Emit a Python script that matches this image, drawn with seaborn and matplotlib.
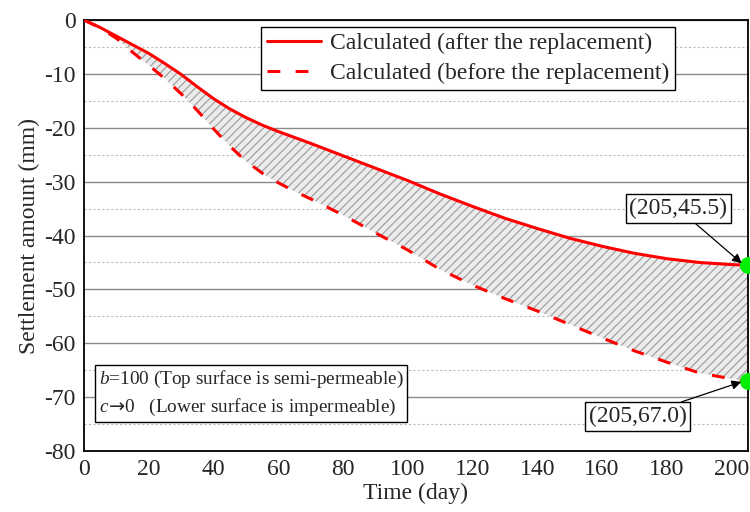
import numpy as np
import pandas as pd
import matplotlib
matplotlib.use("Agg")
import matplotlib.pyplot as plt
import seaborn as sns
from matplotlib.ticker import MultipleLocator

# ---- data ----
time_day = [0, 5, 10, 15, 20, 25, 30, 35, 40, 45, 50, 55, 60, 65, 70, 80, 90, 100,
            110, 120, 130, 140, 150, 160, 170, 180, 190, 200, 205]
after_repl = [0, -1.4, -3.0, -4.6, -6.2, -8.1, -10.1, -12.4, -14.6, -16.5, -18.1,
              -19.5, -20.7, -21.8, -22.9, -25.2, -27.5, -29.8, -32.3, -34.6, -36.8,
              -38.7, -40.5, -42.0, -43.3, -44.3, -45.0, -45.4, -45.5]
before_repl = [0, -1.5, -3.4, -6.0, -8.4, -10.9, -13.7, -16.8, -20.2, -23.4, -26.2,
               -28.4, -30.2, -31.8, -33.2, -36.2, -39.5, -42.7, -46.3, -49.2, -51.7,
               -54.0, -56.5, -59.0, -61.4, -63.5, -65.5, -66.6, -67.0]
series_names = ["Calculated (after the replacement)", "Calculated (before the replacement)"]
end_points = [(205, -45.5, "(205,45.5)"), (205, -67.0, "(205,67.0)")]
x_ticks = list(range(0, 201, 20))
y_ticks = list(range(0, -81, -10))

sns.set_style("white")
plt.rcParams["font.family"] = ["Liberation Serif", "DejaVu Sans"]
plt.rcParams["axes.unicode_minus"] = False
plt.rcParams["mathtext.fontset"] = "custom"
plt.rcParams["mathtext.rm"] = "Liberation Serif"
plt.rcParams["mathtext.it"] = "Liberation Serif:italic"
plt.rcParams["mathtext.sf"] = "DejaVu Sans"
plt.rcParams["hatch.color"] = "#8c8c8c"
plt.rcParams["hatch.linewidth"] = 0.8

df = pd.DataFrame({
    "t": time_day * 2,
    "v": after_repl + before_repl,
    "s": [series_names[0]] * len(time_day) + [series_names[1]] * len(time_day),
})

fig = plt.figure(figsize=(7.5, 5.12), dpi=100)
ax = fig.add_axes([0.112, 0.119, 0.885, 0.842])

ax.fill_between(time_day, after_repl, before_repl, facecolor="#ebebeb",
                edgecolor="#9a9a9a", hatch="////", linewidth=0, zorder=1)

sns.lineplot(data=df, x="t", y="v", hue="s", style="s",
             palette=["#ff0000", "#ff0000"],
             dashes={series_names[0]: "", series_names[1]: (4.2, 5.0)},
             linewidth=2.2, ax=ax, zorder=3, legend=True)

ax.set_xlim(0, 205)
ax.set_ylim(-80, 0)
ax.set_xticks(x_ticks)
ax.set_yticks(y_ticks)
ax.xaxis.set_minor_locator(MultipleLocator(10))
ax.yaxis.set_minor_locator(MultipleLocator(5))
ax.tick_params(which="both", direction="in", top=False, right=False, labelsize=17)
ax.tick_params(which="major", length=6, width=1.3, pad=6)
ax.tick_params(which="minor", length=3.5, width=1.1)
ax.yaxis.grid(True, which="major", color="#8a8a8a", linewidth=1.0, zorder=0)
ax.yaxis.grid(True, which="minor", color="#bdbdbd", linestyle=(0, (2, 2)), linewidth=0.8, zorder=0)
ax.xaxis.grid(False)
ax.set_axisbelow(True)
for sp in ax.spines.values():
    sp.set_linewidth(1.3)
    sp.set_color("black")

ax.set_xlabel("Time (day)", fontsize=17, labelpad=2)
ax.set_ylabel("Settlement amount (mm)", fontsize=17, labelpad=3)

leg = ax.legend(loc="upper left", bbox_to_anchor=(0.267, 0.984), fontsize=17,
                frameon=True, fancybox=False, edgecolor="black", framealpha=1,
                handlelength=2.3, handletextpad=0.35, borderpad=0.25,
                labelspacing=0.35, borderaxespad=0)
leg.get_frame().set_linewidth(1.0)

for (tx, ty, lab), (bx, by) in zip(end_points, [(183.5, -35.0), (171.0, -73.6)]):
    ax.scatter([tx], [ty], s=150, color="#00ee00", zorder=5, clip_on=False, linewidths=0)
    ax.annotate(lab, xy=(tx - 1.2, ty), xytext=(bx, by), fontsize=17,
                ha="center", va="center",
                bbox=dict(boxstyle="square,pad=0.15", facecolor="white", edgecolor="black", linewidth=1.0),
                arrowprops=dict(arrowstyle="-|>", color="black", lw=0.9, shrinkA=0, shrinkB=2,
                                mutation_scale=14),
                zorder=6)

txt = "$\\it{b}$=100 (Top surface is semi-permeable)\n$\\it{c}\\!\\mathsf{\\rightarrow}\\!$0   (Lower surface is impermeable)"
ax.text(0.022, 0.19, txt, transform=ax.transAxes, fontsize=13.9, ha="left", va="top",
        linespacing=1.45,
        bbox=dict(boxstyle="square,pad=0.2", facecolor="white", edgecolor="black", linewidth=1.0),
        zorder=6)

fig.savefig("out.png", dpi=100)
